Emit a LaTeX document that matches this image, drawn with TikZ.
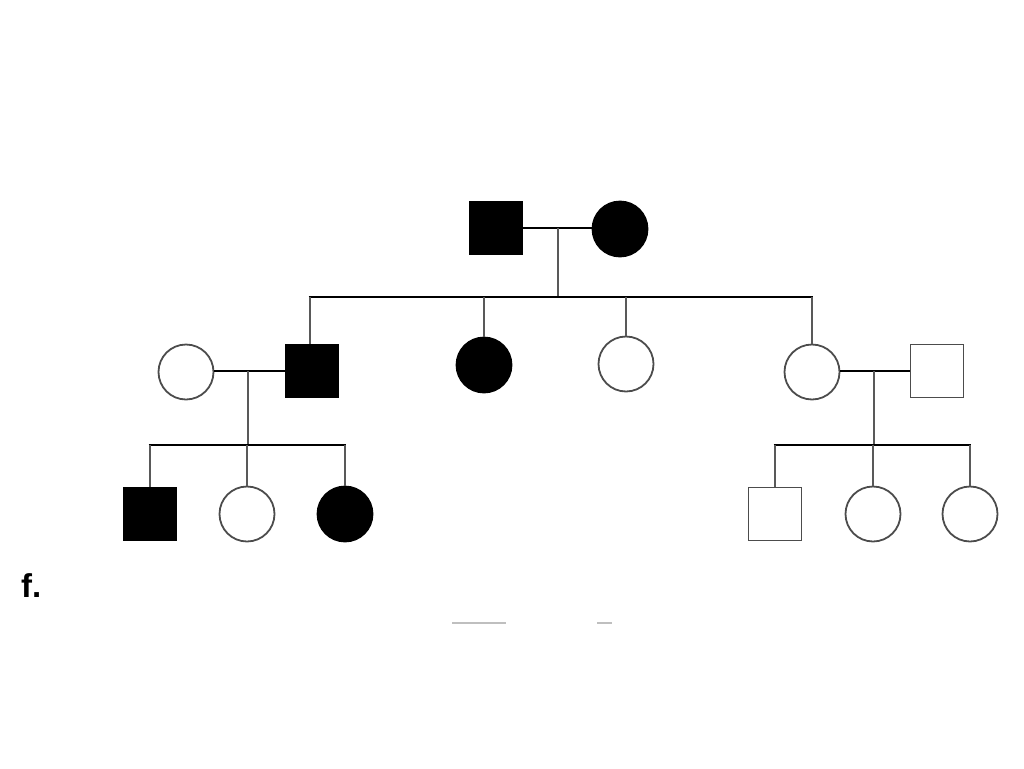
\documentclass[tikz,border=0pt]{standalone}
\usepackage{fontspec}
\setmainfont{Liberation Sans}
\begin{document}
\begin{tikzpicture}[x=1pt,y=-1pt,
  male/.style={draw=black!70,line width=1.8pt,minimum size=53pt,inner sep=0pt,rectangle},
  female/.style={draw=black!70,line width=1.8pt,minimum size=55pt,inner sep=0pt,circle},
  aff/.style={fill=black,draw=black},
  marr/.style={black,line width=2.8pt},
  sib/.style={black,line width=2.8pt},
  desc/.style={black!65,line width=2.1pt},
  frag/.style={black!25,line width=2pt}]
\useasboundingbox (0,0) rectangle (1024,768);
% Generation I
\node[male,aff] (I1) at (496,228) {};
\node[female,aff] (I2) at (620,229) {};
\draw[marr] (I1.east) -- (I1.east -| I2.west);
\coordinate (m1) at (558,228);
\coordinate (s1) at (558,297);
\draw[desc] (m1) -- (s1);
% Generation II
\node[female] (II1) at (186,372) {};
\node[male,aff] (II2) at (312,371) {};
\node[female,aff] (II3) at (484,365) {};
\node[female] (II4) at (626,364) {};
\node[female] (II5) at (812,372) {};
\node[male] (II6) at (937,371) {};
\coordinate (s1l) at (310,297);
\coordinate (s1r) at (812,297);
\draw[sib] ([xshift=-1.4pt]s1l) -- ([xshift=1.4pt]s1r);
\draw[desc] (II2.north -| s1l) -- (s1l);
\draw[desc] (II3.north) -- (II3.north |- s1l);
\draw[desc] (II4.north) -- (II4.north |- s1l);
\draw[desc] (II5.north) -- (II5.north |- s1l);
% left family
\draw[marr] (II1.east |- II2.west) -- (II2.west);
\coordinate (m2) at (248,371);
\coordinate (s2) at (248,445);
\draw[desc] (m2) -- (s2);
\node[male,aff] (III1) at (150,514) {};
\node[female] (III2) at (247,514) {};
\node[female,aff] (III3) at (345,514) {};
\draw[sib] ([xshift=-1.4pt]III1.north |- s2) -- ([xshift=1.4pt]III3.north |- s2);
\draw[desc] (III1.north) -- (III1.north |- s2);
\draw[desc] (III2.north) -- (III2.north |- s2);
\draw[desc] (III3.north) -- (III3.north |- s2);
% right family
\draw[marr] (II5.east |- II6.west) -- (II6.west);
\coordinate (m3) at (874,371);
\coordinate (s3) at (874,445);
\draw[desc] (m3) -- (s3);
\node[male] (III4) at (775,514) {};
\node[female] (III5) at (873,514) {};
\node[female] (III6) at (970,514) {};
\draw[sib] ([xshift=-1.4pt]III4.north |- s3) -- ([xshift=1.4pt]III6.north |- s3);
\draw[desc] (III4.north) -- (III4.north |- s3);
\draw[desc] (III5.north) -- (III5.north |- s3);
\draw[desc] (III6.north) -- (III6.north |- s3);
% label
\node[anchor=base west,inner sep=0pt,font=\bfseries\fontsize{33}{33}\selectfont] (lab) at (21,597) {f.};
% cropped fragments at bottom
\draw[frag] (452,623) -- (506,623);
\draw[frag] (597,623) -- (612,623);
\end{tikzpicture}
\end{document}
